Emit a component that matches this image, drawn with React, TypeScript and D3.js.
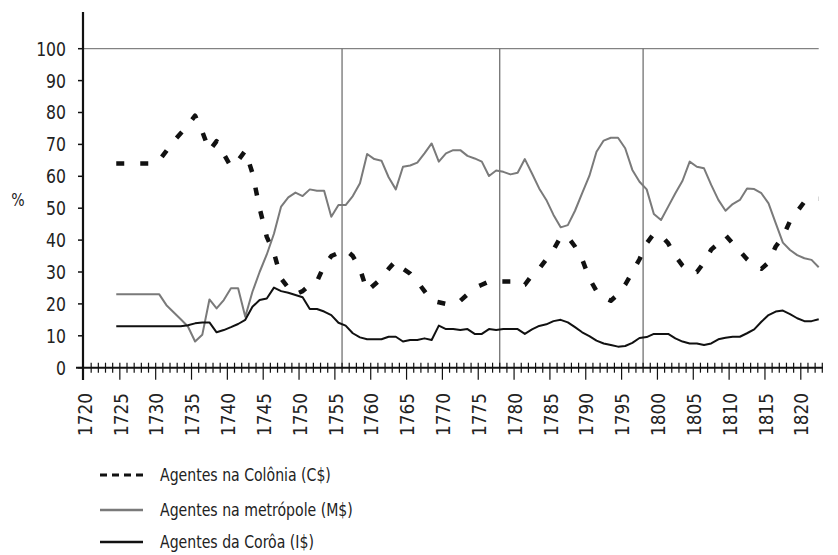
import React, { useEffect, useRef } from "react";
import * as d3 from "d3";

// one value per year, 1724..1822
const firstYear = 1724;
const colonia = [
  64, 64, 64, 64, 64, 64, 65, 68, 71, 73.5,
  76, 79, 74, 68, 71, 67, 63, 65, 68, 61,
  50, 41, 36, 28, 25, 23, 24, 26, 27, 32,
  35, 36, 37, 35, 31, 24, 26, 28, 31, 33.5,
  31, 29.5, 27, 24, 21, 20.5, 20, 20, 21, 23,
  25, 26, 27, 27, 27, 27, 25.5, 26, 29, 31,
  34, 37, 41, 41, 38, 34, 28, 24, 22, 21,
  23, 26, 30, 34, 39, 42, 41.5, 39, 35, 32,
  30, 30, 33, 37, 39, 41.5, 39, 36.5, 34, 32,
  31, 33, 38, 41, 46, 49, 52, 53, 53,
];
const metropole = [
  23, 23, 23, 23, 23, 23, 23, 19.6, 17.4, 15.2,
  12.9, 8.2, 10.3, 21.4, 18.6, 21.2, 24.9, 24.9, 16, 23.8,
  30, 35.5, 42, 50.5, 53.4, 54.9, 53.8, 55.9, 55.5, 55.5,
  47.3, 51, 51, 53.8, 57.8, 67, 65.4, 64.9, 59.7, 55.9,
  63, 63.4, 64.3, 67.2, 70.3, 64.6, 67.2, 68.2, 68.2, 66.4,
  65.6, 64.6, 60.1, 61.8, 61.4, 60.6, 61.1, 65.4, 60.9, 56.2,
  52.6, 47.9, 44, 44.7, 49.2, 54.7, 60.1, 67.7, 71.2, 72.1,
  72.1, 68.8, 62, 58.3, 55.9, 48.2, 46.3, 50.5, 54.7, 58.6,
  64.6, 63, 62.5, 57.3, 52.6, 49.2, 51.3, 52.6, 56.2, 56,
  54.7, 51.5, 45.3, 39.2, 36.9, 35.3, 34.3, 33.8, 31.5,
];
const coroa = [
  13, 13, 13, 13, 13, 13, 13, 13, 13, 13,
  13.3, 13.9, 14.2, 14.2, 11.1, 11.8, 12.7, 13.7, 15, 19.1,
  21.2, 21.7, 25.1, 24, 23.5, 22.8, 22.1, 18.4, 18.4, 17.6,
  16.5, 14.1, 13.2, 10.8, 9.5, 8.9, 8.9, 8.9, 9.7, 9.7,
  8.2, 8.7, 8.7, 9.2, 8.7, 13.2, 12.1, 12.1, 11.8, 12.1,
  10.6, 10.6, 12.1, 11.8, 12.1, 12.1, 12.1, 10.6, 12, 13.1,
  13.6, 14.6, 15, 14.2, 12.7, 11.1, 9.9, 8.5, 7.6, 7.1,
  6.6, 6.8, 7.8, 9.3, 9.6, 10.6, 10.6, 10.6, 9.2, 8.2,
  7.6, 7.6, 7.1, 7.6, 8.9, 9.4, 9.7, 9.7, 10.8, 12,
  14.4, 16.5, 17.6, 17.9, 16.8, 15.5, 14.6, 14.6, 15.2,
];
const markerYears = [1756, 1778, 1798];
const yTicks = [0, 10, 20, 30, 40, 50, 60, 70, 80, 90, 100];
const xLabelYears = [1720, 1725, 1730, 1735, 1740, 1745, 1750, 1755, 1760, 1765, 1770, 1775, 1780, 1785, 1790, 1795, 1800, 1805, 1810, 1815, 1820];
const legendLabels = ["Agentes na Colônia (C$)", "Agentes na metrópole (M$)", "Agentes da Corôa (I$)"];

const FONT = "'Liberation Sans Narrow', 'DejaVu Sans Condensed', 'Roboto', sans-serif";
const SQUEEZE = 0.87; // the original uses a condensed face

const App = () => {
  const ref = useRef(null);

  useEffect(() => {
    const svg = d3.select(ref.current);
    svg.selectAll("*").remove();

    const x = d3.scaleLinear().domain([1720, 1823]).range([84, 822.3]);
    const y = d3.scaleLinear().domain([0, 100]).range([367.7, 48.7]);
    const y0 = y(0);

    const series = [
      { name: legendLabels[0], values: colonia, color: "#111", width: 4.5, dash: "8 16" },
      { name: legendLabels[1], values: metropole, color: "#7a7a7a", width: 2, dash: null },
      { name: legendLabels[2], values: coroa, color: "#111", width: 2, dash: null },
    ];

    // 100% line
    svg.append("line")
      .attr("x1", 83).attr("x2", x(1822.5))
      .attr("y1", y(100)).attr("y2", y(100))
      .attr("stroke", "#666").attr("stroke-width", 1);

    // vertical marker lines
    svg.selectAll(".marker")
      .data(markerYears)
      .enter()
      .append("line")
      .attr("x1", (d) => x(d)).attr("x2", (d) => x(d))
      .attr("y1", y(100)).attr("y2", y0)
      .attr("stroke", "#666").attr("stroke-width", 1.2);

    // y axis
    svg.selectAll(".ytick")
      .data(yTicks)
      .enter()
      .append("line")
      .attr("x1", 78).attr("x2", 83)
      .attr("y1", (d) => y(d)).attr("y2", (d) => y(d))
      .attr("stroke", "#111").attr("stroke-width", 1.5);

    svg.selectAll(".ylabel")
      .data(yTicks)
      .enter()
      .append("text")
      .attr("transform", (d) => `translate(66,${y(d)}) scale(${SQUEEZE},1)`)
      .attr("text-anchor", "end")
      .attr("dominant-baseline", "central")
      .attr("font-family", FONT).attr("font-size", 20).attr("fill", "#222")
      .text((d) => d);

    svg.append("line")
      .attr("x1", 83).attr("x2", 83).attr("y1", 12).attr("y2", 380)
      .attr("stroke", "#111").attr("stroke-width", 2.2);

    // x axis
    svg.append("line")
      .attr("x1", 76).attr("x2", 823).attr("y1", y0).attr("y2", y0)
      .attr("stroke", "#111").attr("stroke-width", 2);

    const years = d3.range(1721, 1824);
    svg.selectAll(".xtick")
      .data(years)
      .enter()
      .append("line")
      .attr("x1", (d) => x(d)).attr("x2", (d) => x(d))
      .attr("y1", y0 - 5)
      .attr("y2", (d) => (d % 5 === 0 ? y0 + 12 : y0 + 5))
      .attr("stroke", "#111").attr("stroke-width", 1.2);

    svg.selectAll(".xlabel")
      .data(xLabelYears)
      .enter()
      .append("text")
      .attr("transform", (d) => `translate(${x(d) + 1},393) rotate(-90) scale(0.94,1)`)
      .attr("text-anchor", "end")
      .attr("dominant-baseline", "central")
      .attr("font-family", FONT).attr("font-size", 20).attr("fill", "#222")
      .text((d) => d);

    svg.append("text")
      .attr("transform", `translate(18,200) scale(${SQUEEZE},1)`)
      .attr("text-anchor", "middle").attr("dominant-baseline", "central")
      .attr("font-family", FONT).attr("font-size", 18).attr("fill", "#222")
      .text("%");

    // series
    const line = d3.line<number>()
      .x((d, i) => x(firstYear + i + 0.5))
      .y((d) => y(d));

    series.forEach((s) => {
      const p = svg.append("path")
        .datum(s.values)
        .attr("d", line)
        .attr("fill", "none")
        .attr("stroke", s.color)
        .attr("stroke-width", s.width)
        .attr("stroke-linejoin", "round");
      if (s.dash) p.attr("stroke-dasharray", s.dash);
    });

    // legend
    const legend = svg.selectAll(".legend")
      .data(series)
      .enter()
      .append("g")
      .attr("transform", (d, i) => `translate(0,${[475, 510, 542][i]})`);
    legend.append("line")
      .attr("x1", 100).attr("x2", 143)
      .attr("stroke", (d) => d.color)
      .attr("stroke-width", (d) => (d.dash ? 3 : 2.5))
      .attr("stroke-dasharray", (d) => (d.dash ? "7 5" : null));
    legend.append("text")
      .attr("transform", `translate(160,0) scale(${SQUEEZE},1)`)
      .attr("dominant-baseline", "central")
      .attr("font-family", FONT).attr("font-size", 18).attr("fill", "#222")
      .text((d) => d.name);
  }, []);

  return (
    <svg
      ref={ref}
      width={838}
      height={555}
      style={{ position: "absolute", left: 0, top: 0, background: "#fff" }}
    />
  );
};

export default App;
